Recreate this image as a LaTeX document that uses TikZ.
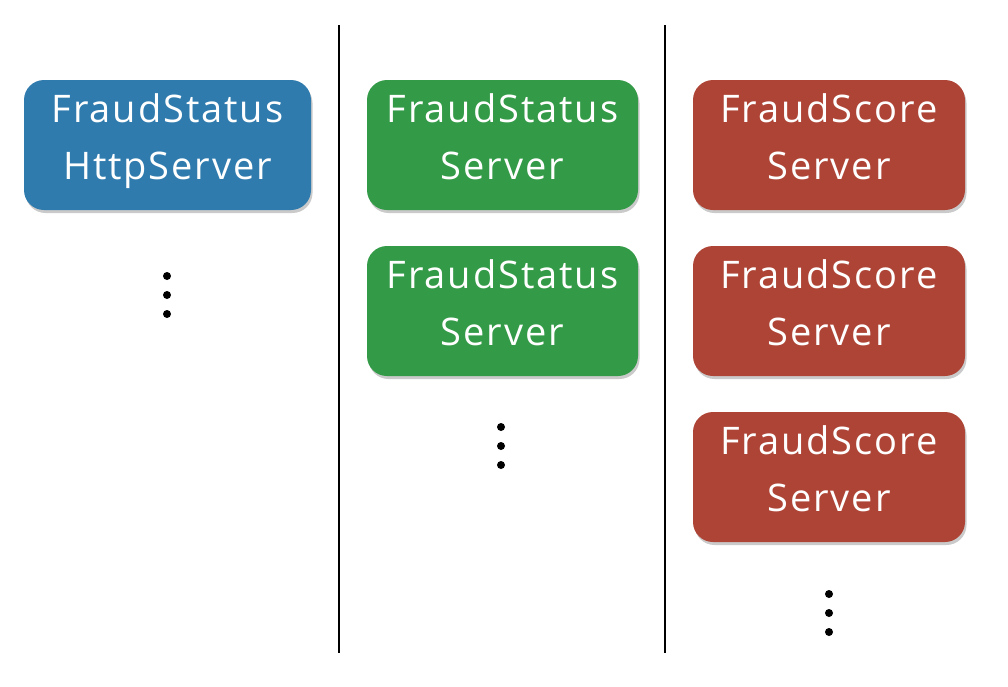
\documentclass[tikz,border=0pt]{standalone}
\usepackage{fontspec}
\setmainfont{Open Sans}[LetterSpace=5]
\usetikzlibrary{shadows}
\definecolor{cblue}{HTML}{2F7BAE}
\definecolor{cgreen}{HTML}{339A47}
\definecolor{cred}{HTML}{AE4436}
\begin{document}
\begin{tikzpicture}[x=1pt,y=-1pt,
  srv/.style={rounded corners=20pt, inner sep=0pt, text=white,
    minimum height=130pt, text width=#1pt, minimum width=#1pt,
    font=\fontsize{38}{57}\selectfont, align=center,
    drop shadow={shadow xshift=1.5pt, shadow yshift=-3pt, opacity=0.35, fill=black!60}},
  sep/.style={line width=2.4pt, black},
  dotc/.style={circle, fill=black, inner sep=0pt, minimum size=8pt}]
\useasboundingbox (0,0) rectangle (1008,686);
\draw[sep] (339,25) coordinate (l1t) -- (339,653) coordinate (l1b);
\draw[sep] (665,25) coordinate (l2t) -- (665,653) coordinate (l2b);
\node[srv=287, fill=cblue] (b1) at (167.5,145) {FraudStatus\\HttpServer\strut};
\node[srv=271, fill=cgreen] (g1) at (502.5,145) {FraudStatus\\Server\strut};
\node[srv=271, fill=cgreen] (g2) at (502.5,311) {FraudStatus\\Server\strut};
\node[srv=272, fill=cred] (r1) at (829,145) {FraudScore\\Server\strut};
\node[srv=272, fill=cred] (r2) at (829,311) {FraudScore\\Server\strut};
\node[srv=272, fill=cred] (r3) at (829,477) {FraudScore\\Server\strut};
\foreach \x/\y [count=\i] in {167/276, 167/295, 167/314, 501/427, 501/446, 501/465, 829/594, 829/613, 829/632}
  \node[dotc] (d\i) at (\x,\y) {};
\end{tikzpicture}
\end{document}
